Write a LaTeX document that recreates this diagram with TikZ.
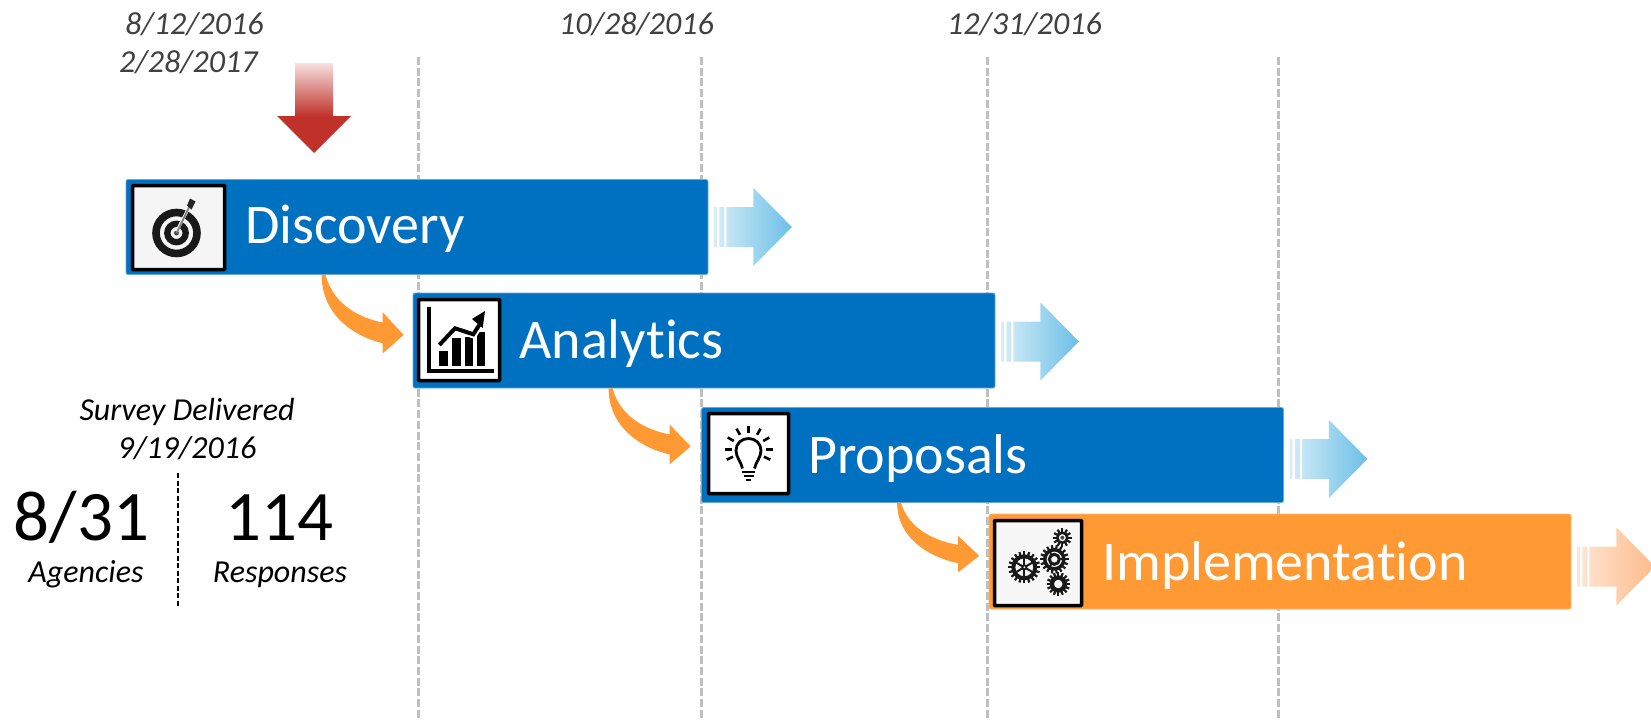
\documentclass[tikz,border=0pt]{standalone}
\usepackage{fontspec}
\setmainfont{Carlito}[Ligatures=NoCommon]
\usetikzlibrary{positioning,calc}
\definecolor{myblue}{HTML}{0070C0}
\definecolor{myorange}{HTML}{FF9933}
\definecolor{mygrey}{HTML}{404040}
\definecolor{myred}{HTML}{C0312A}
\tikzstyle{bar_cust}=[minimum width=582pt,minimum height=95pt,inner sep=0pt,rounded corners=2pt,line width=0.8pt]
\tikzstyle{bar_blue}=[bar_cust,fill=myblue,draw=myblue!60!white]
\tikzstyle{bar_orange}=[bar_cust,fill=myorange,draw=myorange!70!white]
\tikzstyle{icon_box}=[draw=black,line width=3.5pt,fill=white,inner sep=0pt,rounded corners=0.5pt]
\tikzstyle{bar_text}=[anchor=base west,inner sep=0pt,text=white,font=\fontsize{56}{56}\selectfont]
\tikzstyle{date_text}=[anchor=base west,inner sep=0pt,text=mygrey,font=\fontsize{32}{32}\selectfont\itshape]
\tikzstyle{note_text}=[anchor=base,inner sep=0pt,font=\fontsize{32}{32}\selectfont\itshape]
\tikzstyle{big_text}=[anchor=base,inner sep=0pt,font=\fontsize{71}{71}\selectfont]
\tikzstyle{time_line}=[draw=black!25,line width=3pt,dash pattern=on 8pt off 2.7pt]
\tikzstyle{next_blue}=[left color={rgb,255:red,214;green,237;blue,247},right color={rgb,255:red,107;green,191;blue,231}]
\tikzstyle{next_orange}=[left color={rgb,255:red,254;green,230;blue,212},right color={rgb,255:red,253;green,187;blue,138}]
% one toothed wheel of the gears icon
\newcommand{\gearwheel}[4]{
    \draw[line width=#4pt] (#1) circle ({#2-3-#4/2});
    \foreach \i in {1,...,#3}
        \draw[line width=2.2pt,shift={(#1)}] ({\i*360/#3}:{#2-3.5}) -- ({\i*360/#3}:#2);
}

\begin{document}
\begin{tikzpicture}[x=1pt,y=-1pt]
\useasboundingbox (0,0) rectangle (1651,720);

% time lines
\coordinate (lineone) at (418,57);
\coordinate (linetwo) at (701,57);
\coordinate (linethree) at (987,57);
\coordinate (linefour) at (1278,57);
\foreach \l in {lineone,linetwo,linethree,linefour}
    \draw[time_line] (\l) -- (\l |- 0,720);

% dates
\node[date_text] (startdate) at (125,34) {8/12/2016};
\node[date_text] (restartdate) at (119,72) {2/28/2017};
\node[date_text] (seconddate) at (559,34) {10/28/2016};
\node[date_text] (thirddate) at (947,34) {12/31/2016};

% phases
\node[bar_blue] (discovery) at (417,227) {};
\node[bar_blue] (analytics) at (704,340.5) {};
\node[bar_blue] (proposals) at (992.5,455) {};
\node[bar_orange] (implementation) at (1280,561.5) {};

\node[bar_text] (discoverytext) at (245,243) {Discovery};
\node[bar_text] (analyticstext) at (519,358) {Analytics};
\node[bar_text] (proposalstext) at (808,473) {Proposals};
\node[bar_text] (implementationtext) at (1102,580) {Implementation};

% today
\fill[myred] (333,116) -- (351,116) -- (314,153) -- (277,116) -- cycle;
\path[top color=myred!15!white,bottom color=myred] (295,63) rectangle (333,116.5);

% arrows out of the bars
\foreach \bar/\dy/\kind in {discovery/0/next_blue,analytics/1/next_blue,proposals/4/next_blue,implementation/5/next_orange}
    \path[\kind,shift={($(\bar.east)+(0,\dy)$)}]
        (6,-20) rectangle (8.5,20)
        (11,-20) rectangle (16,20)
        (18,-20) -- (45,-20) -- (45,-39) -- (83.5,0) -- (45,39) -- (45,20) -- (18,20) -- cycle;

% arrows from bar to bar
\foreach \from/\dy in {discovery/60,analytics/58,proposals/53}
    \fill[myorange,shift={($(\from.south west)+(196,0)$)},yscale=\dy/58]
        (0,0) .. controls (0,37) and (30,59) .. (61,66) -- (61,76) -- (82,58) -- (61,36) -- (61,46)
        .. controls (40,42) and (12,30) .. (4,0) -- cycle;

% icons
\node[icon_box,fill=black!4,minimum width=92pt,minimum height=84pt] (target) at (178.5,227.5) {};
\node[icon_box,minimum width=81pt,minimum height=81pt] (chart) at (459,340) {};
\node[icon_box,minimum width=80pt,minimum height=80pt] (bulb) at (748.5,453.5) {};
\node[icon_box,fill=black!3,minimum width=87pt,minimum height=85pt] (gears) at (1038,563) {};

% target
\begin{scope}[shift={(target.center)}]
    \draw[line width=7.6pt,black!90] (-2,5.5) circle (20.5);
    \draw[line width=6.3pt,black!90] (-2,5.5) circle (9.2);
    \fill[black!70] (-2,5.5) circle (2.5);
    \draw[white,line width=3pt] (-2,4) -- (11,-21);
    \draw[black!50,line width=1.8pt] (-2,5.5) -- (11,-21);
    \fill[black!85] (8.5,-22) -- (11.5,-29) -- (17,-26) -- (13,-18) -- cycle;
\end{scope}

% chart
\begin{scope}[shift={(chart.center)}]
    \draw[line width=4pt] (-30.3,-33) -- (-30.3,31) -- (35,31);
    \fill (-19.7,10.7) rectangle (-11.3,25.7);
    \fill (-6.7,-2) rectangle (1.7,25.7);
    \fill (6,-3.3) rectangle (14.3,25.7);
    \fill (18.3,-8.3) rectangle (26,25.7);
    \draw[white,line width=8pt] (-19.7,5) -- (-4,-11.7) -- (14.3,-5.7) -- (20.3,-15);
    \draw[line width=4pt] (-19.7,5) -- (-4,-11.7) -- (14.3,-5.7) -- (20.3,-15);
    \fill (26,-29) -- (23.7,-12) -- (13,-21) -- cycle;
\end{scope}

% bulb
\begin{scope}[shift={(bulb.center)},line width=2.8pt,yshift=4pt]
    \draw (-6,19) .. controls (-7,13) and (-12.5,8) .. (-12.5,1) .. controls (-12.5,-6) and (-7,-11) .. (0,-11)
        .. controls (7,-11) and (12.5,-6) .. (12.5,1) .. controls (12.5,8) and (7,13) .. (6,19);
    \draw[line width=2.3pt] (-6.3,22.7) -- (6.3,22.7) (-5,26.7) -- (5,26.7) (-2.7,30.7) -- (2.7,30.7);
    \foreach \a in {25,0,-30,-60,-90,-120,-150,180,155}
        \draw[line width=2.6pt] (\a:17) -- (\a:24);
\end{scope}

% gears
\begin{scope}[shift={(gears.center)},black!90]
    \gearwheel{-13.7,4.3}{16}{20}{4}
    \foreach \a in {30,90,...,330}
        \draw[line width=2pt,shift={(-13.7,4.3)}] (\a:0) -- (\a:11);
    \fill (-13.7,4.3) circle (3);
    \fill[white] (-13.7,4.3) circle (1);
    \gearwheel{16.3,-3.7}{14.3}{18}{3.5}
    \draw[line width=3pt] (16.3,-3.7) circle (5);
    \foreach \a in {0,120,240}
        \draw[line width=1.8pt,shift={(16.3,-3.7)}] (\a:5) -- (\a:9);
    \gearwheel{24.3,-25.3}{9.3}{12}{2.5}
    \fill[black!70] (24.3,-25.3) circle (2);
    \gearwheel{20.3,21}{11.7}{16}{4.5}
\end{scope}

% survey
\node[note_text] (surveytext) at (187,420) {Survey Delivered};
\node[note_text] (surveydate) at (187,458) {9/19/2016};
\node[big_text] (agenciesnum) at (81.5,540) {8/31};
\node[big_text] (responsesnum) at (279,540) {114};
\node[note_text] (agenciestext) at (86,582) {Agencies};
\node[note_text] (responsestext) at (280,582) {Responses};
\coordinate (dividertop) at (178,473);
\coordinate (dividerbottom) at (178,607);
\draw[line width=2pt,dash pattern=on 5pt off 2.5pt] (dividertop) -- (dividerbottom);

\end{tikzpicture}
\end{document}
